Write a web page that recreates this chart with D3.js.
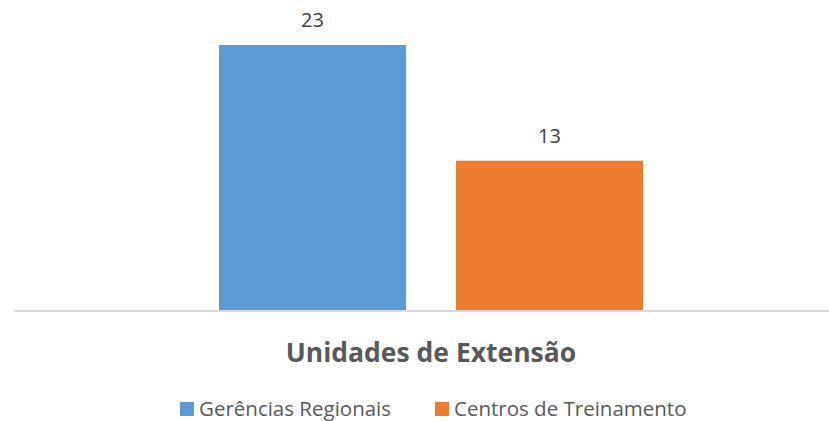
<!DOCTYPE html>
<html>
<head>
<meta charset="utf-8">
<script src="https://cdn.jsdelivr.net/npm/d3@7"></script>
<style>
  html, body { margin: 0; padding: 0; background: #fff; }
  svg { display: block; font-family: "Open Sans", sans-serif; }
</style>
</head>
<body>
<svg id="chart" width="829" height="421"></svg>
<script>
// chart data
var series = ['Gerências Regionais', 'Centros de Treinamento'];
var values = [23, 13];
var colors = ['#5B9BD5', '#ED7D31'];
var title = 'Unidades de Extensão';

var svg = d3.select('#chart');
var baseY = 311;

var x = d3.scaleBand()
  .domain(series)
  .range([219, 643])
  .paddingInner(0.211)
  .paddingOuter(0);

var y = d3.scaleLinear()
  .domain([0, 23])
  .range([baseY, 45]);

// bars
svg.selectAll('rect.bar')
  .data(series)
  .enter()
  .append('rect')
  .attr('class', 'bar')
  .attr('x', function(d) { return x(d); })
  .attr('y', function(d, i) { return y(values[i]); })
  .attr('width', x.bandwidth())
  .attr('height', function(d, i) { return baseY - y(values[i]); })
  .attr('fill', function(d, i) { return colors[i]; });

// baseline
svg.append('line')
  .attr('x1', 14).attr('x2', 829)
  .attr('y1', baseY).attr('y2', baseY)
  .attr('stroke', '#D9D9D9')
  .attr('stroke-width', 2);

// value labels
svg.selectAll('text.value')
  .data(series)
  .enter()
  .append('text')
  .attr('class', 'value')
  .attr('x', function(d) { return x(d) + x.bandwidth() / 2; })
  .attr('y', function(d, i) { return y(values[i]) - 18; })
  .attr('text-anchor', 'middle')
  .attr('font-size', 20)
  .attr('fill', '#404040')
  .text(function(d, i) { return values[i]; });

// title
svg.append('text')
  .attr('x', 431)
  .attr('y', 362)
  .attr('text-anchor', 'middle')
  .attr('font-size', 26.5)
  .attr('font-weight', 'bold')
  .attr('fill', '#595959')
  .text(title);

// legend
var legendX = [180, 435];
var legend = svg.selectAll('g.legend')
  .data(series)
  .enter()
  .append('g')
  .attr('class', 'legend')
  .attr('transform', function(d, i) { return 'translate(' + legendX[i] + ',402)'; });

legend.append('rect')
  .attr('width', 14)
  .attr('height', 14)
  .attr('fill', function(d, i) { return colors[i]; });

legend.append('text')
  .attr('x', 19)
  .attr('y', 14)
  .attr('font-size', 20.5)
  .attr('fill', '#595959')
  .text(function(d) { return d; });
</script>
</body>
</html>
